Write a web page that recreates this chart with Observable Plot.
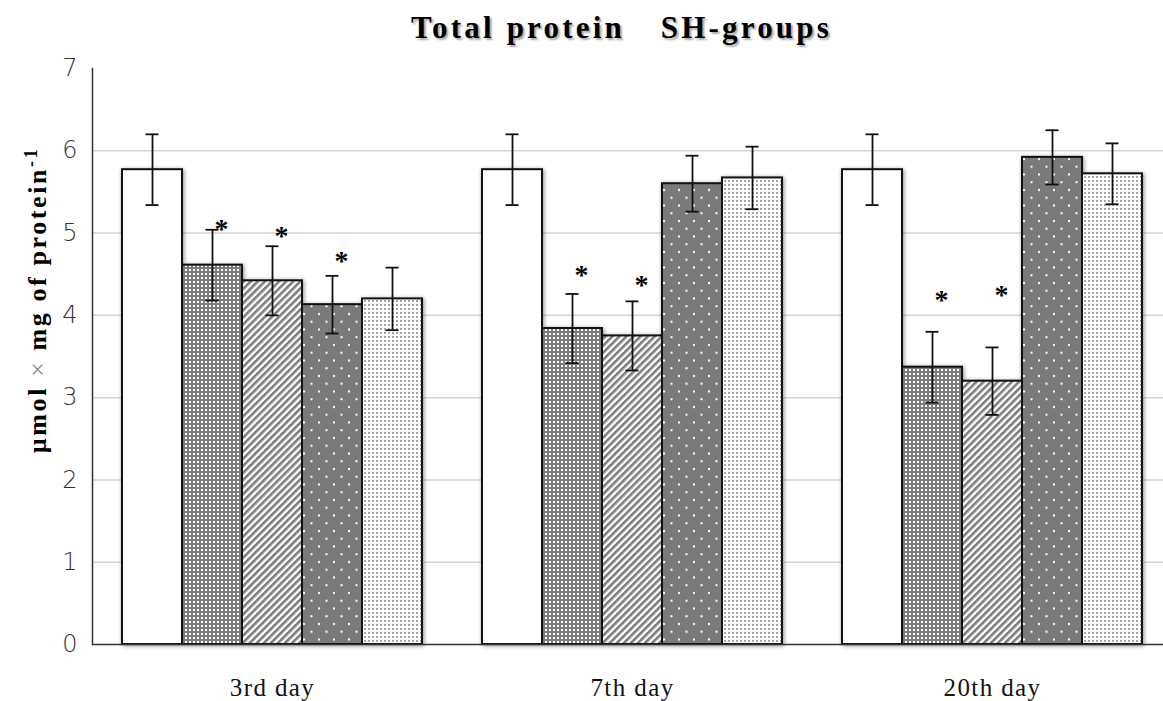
<!DOCTYPE html>
<html>
<head>
<meta charset="utf-8">
<script src="https://cdn.jsdelivr.net/npm/d3@7"></script>
<script src="https://cdn.jsdelivr.net/npm/@observablehq/plot@0.6"></script>
<style>
  html, body { margin: 0; padding: 0; background: #fff; overflow: hidden; }
  #wrap { position: relative; width: 1163px; height: 701px; }
  #title { position: absolute; left: 0; width: 1163px; top: 10px; text-align: center;
           font-family: "Liberation Serif", serif; font-weight: bold; font-size: 31px;
           letter-spacing: 3.2px; word-spacing: 1px; color: #000; text-shadow: 2px 2px 2px rgba(0,0,0,0.35); white-space: pre; padding-left: 80px; box-sizing: border-box; z-index: 2; }
  #ylab { position: absolute; left: 37px; top: 300px; transform: translate(-50%, -50%) rotate(-90deg);
          font-family: "Liberation Serif", serif; font-weight: bold; font-size: 26px; letter-spacing: 2.6px; white-space: nowrap; color: #000; z-index: 2; }
  #ylab .x { font-weight: normal; color: #888; }
  #ylab sup { font-size: 18px; }
  svg.plot { overflow: hidden; }
  g[aria-label="fx-axis tick label"] text { letter-spacing: 1.4px; }
</style>
</head>
<body>
<svg width="0" height="0" style="position:absolute">
  <defs>
    <pattern id="p2" width="4" height="4" patternUnits="userSpaceOnUse">
      <rect width="4" height="4" fill="#7c7c7c"/>
      <rect x="1" y="1" width="2" height="2" fill="#ffffff"/>
    </pattern>
    <pattern id="p3" width="5" height="5" patternUnits="userSpaceOnUse" patternTransform="rotate(45)">
      <rect width="5" height="5" fill="#ffffff"/>
      <rect width="2.6" height="5" fill="#7c7c7c"/>
    </pattern>
    <pattern id="p4" width="15" height="15.5" patternUnits="userSpaceOnUse">
      <rect width="15" height="15.5" fill="#7a7a7a"/>
      <rect x="3" y="3" width="2" height="2" fill="#ffffff"/>
      <rect x="10.5" y="10.75" width="2" height="2" fill="#ffffff"/>
    </pattern>
    <pattern id="p5" width="4" height="4" patternUnits="userSpaceOnUse">
      <rect width="4" height="4" fill="#ffffff"/>
      <rect x="0" y="0" width="2" height="2" fill="#a6a6a6"/>
    </pattern>
  </defs>
</svg>
<div id="wrap">
  <div id="title">Total protein   SH-groups</div>
  <div id="ylab">µmol <span class="x">×</span> mg of protein<sup>-1</sup></div>
  <div id="chart"></div>
</div>
<script>
const days = ["3rd day", "7th day", "20th day"];
const series = ["Series 1", "Series 2", "Series 3", "Series 4", "Series 5"];
const means = [
  [5.77, 4.61, 4.42, 4.13, 4.20],
  [5.77, 3.84, 3.75, 5.60, 5.67],
  [5.77, 3.37, 3.20, 5.92, 5.72]
];
const errors = [
  [0.43, 0.43, 0.42, 0.35, 0.38],
  [0.43, 0.42, 0.42, 0.34, 0.38],
  [0.43, 0.43, 0.41, 0.33, 0.37]
];
const stars = [
  {day: "3rd day", series: "Series 2", y: 5.10},
  {day: "3rd day", series: "Series 3", y: 5.01},
  {day: "3rd day", series: "Series 4", y: 4.71},
  {day: "7th day", series: "Series 2", y: 4.54},
  {day: "7th day", series: "Series 3", y: 4.42},
  {day: "20th day", series: "Series 2", y: 4.23},
  {day: "20th day", series: "Series 3", y: 4.29}
];
const yTicks = [0, 1, 2, 3, 4, 5, 6, 7];
const gridTicks = [1, 2, 3, 4, 5, 6];
const fills = ["#ffffff", "url(#p2)", "url(#p3)", "url(#p4)", "url(#p5)"];

const rows = [];
days.forEach((d, i) => series.forEach((s, j) => rows.push({day: d, series: s, value: means[i][j], err: errors[i][j]})));

const chart = Plot.plot({
  width: 1163,
  height: 701,
  marginTop: 68,
  marginBottom: 57,
  marginLeft: 92,
  marginRight: 0,
  fx: {domain: days, range: [92, 1172], padding: 0, label: null},
  x: {domain: series, paddingInner: 0, paddingOuter: 0.5, axis: null},
  y: {domain: [0, 7], axis: null},
  color: {domain: series, range: fills, type: "ordinal"},
  marks: [
    Plot.gridY(gridTicks, {stroke: "#d4d4d4", strokeOpacity: 1, strokeWidth: 1.5}),
    Plot.barY(rows, {fx: "day", x: "series", y: "value", fill: "series", stroke: "#111", strokeWidth: 2,
      imageFilter: "drop-shadow(1px 1px 2px rgba(0,0,0,0.45))"}),
    Plot.ruleX(rows, {fx: "day", x: "series", y1: d => d.value - d.err, y2: d => d.value + d.err, stroke: "#111", strokeWidth: 1.8}),
    Plot.tickY(rows, {fx: "day", x: "series", y: d => d.value + d.err, stroke: "#111", strokeWidth: 1.8, insetLeft: 23.5, insetRight: 23.5}),
    Plot.tickY(rows, {fx: "day", x: "series", y: d => d.value - d.err, stroke: "#111", strokeWidth: 1.8, insetLeft: 23.5, insetRight: 23.5}),
    Plot.text(stars, {fx: "day", x: "series", y: "y", text: () => "*", dx: 9, dy: 4, fontSize: 28,
      fontFamily: "Liberation Serif", fontWeight: "bold", fill: "#000"}),
    Plot.ruleY([0], {stroke: "#333", strokeWidth: 1.5}),
    Plot.frame({anchor: "left", facetAnchor: "left", stroke: "#333", strokeWidth: 1.5}),
    Plot.axisY(yTicks, {anchor: "left", facetAnchor: "left", tickSize: 0, tickPadding: 15, fontSize: 24,
      tickFormat: "d", fontFamily: "DejaVu Sans", fontWeight: 200, fill: "#333", label: null}),
    Plot.axisFx({anchor: "bottom", tickSize: 0, tickPadding: 34, fontSize: 25, fontFamily: "Liberation Serif", fill: "#111", label: null})
  ]
});
document.getElementById("chart").appendChild(chart);
</script>
</body>
</html>
